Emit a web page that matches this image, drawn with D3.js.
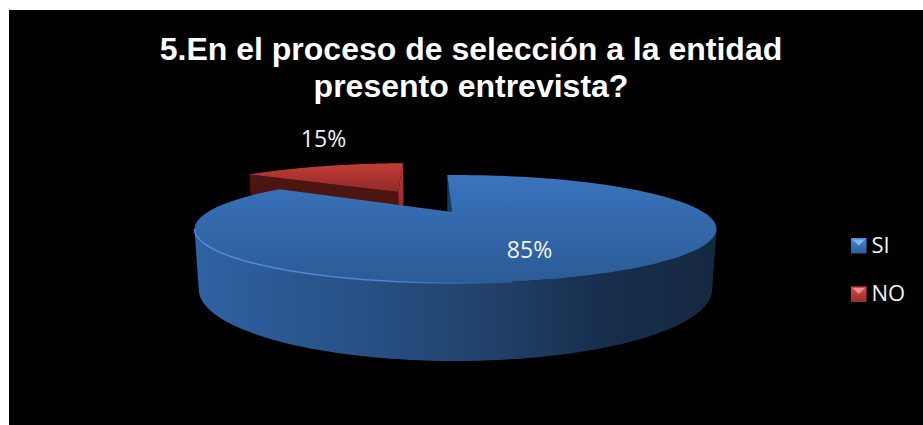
<!DOCTYPE html>
<html>
<head>
<meta charset="utf-8">
<script src="https://cdn.jsdelivr.net/npm/d3@7"></script>
<style>
html, body { margin: 0; padding: 0; background: #fff; }
svg { display: block; }
</style>
</head>
<body>
<svg id="chart" width="923" height="425"></svg>
<script>
const categories = ["SI", "NO"];
const shares = [85, 15];
const titleLines = ["5.En el proceso de selección a la entidad", "presento entrevista?"];

// Camera and solid settings for the tilted disc
const centre = { x: 455.5, y: 212 };
const radiusX = 247.7, radiusY = 48.6, depth = 55.7;
const foreshorten = 0.315, heightShrink = 0.015;
const explodeNo = 0.54;
const hubShift = -0.014;
const firstAngle = -2.5 * Math.PI / 180;

const svg = d3.select("#chart");
const defs = svg.append("defs");

function linear(id, x2, y2, stops) {
  const g = defs.append("linearGradient").attr("id", id)
    .attr("x1", 0).attr("y1", 0).attr("x2", x2).attr("y2", y2);
  stops.forEach(([o, c]) => g.append("stop").attr("offset", o).attr("stop-color", c));
}
linear("blueTop", 0, 1, [[0, "#3a74bd"], [1, "#2b5b96"]]);
linear("blueSide", 1, 0, [[0, "#2f62a3"], [0.5, "#234673"], [0.8, "#172d4b"], [1, "#142840"]]);
linear("blueRim", 1, 0, [[0, "#4f8edb"], [0.6, "#4a86d2"], [0.85, "#34669f"], [1, "#2b5b97"]]);
linear("redTop", 0, 1, [[0, "#c43c38"], [1, "#8f2a27"]]);
linear("redCut", 0, 1, [[0, "#bb3a36"], [0.7, "#8c2825"], [1, "#5a1a17"]]);
linear("swatchBlue", 0, 1, [[0, "#4a8ad6"], [1, "#2a5a98"]]);
linear("swatchRed", 0, 1, [[0, "#d84a46"], [1, "#9a2c2a"]]);

svg.append("rect").attr("x", 9).attr("y", 10).attr("width", 914).attr("height", 415).attr("fill", "#000");

const slices = d3.pie().sort(null).value(d => d)
  .startAngle(firstAngle).endAngle(firstAngle + 2 * Math.PI)(shares);

// Maps a disc point (u right, v back, z down) to the page
function project(u, v, z) {
  const w = 1 + foreshorten * v + heightShrink * z;
  return [centre.x + radiusX * u / w, centre.y + (depth * z - radiusY * v) / w];
}
function offsetFor(slice, amount) {
  const mid = (slice.startAngle + slice.endAngle) / 2;
  return [amount * Math.sin(mid), amount * Math.cos(mid)];
}
function rimPoint(angle, off, z) {
  return project(off[0] + Math.sin(angle), off[1] + Math.cos(angle), z);
}
function arcPoints(a0, a1, off, z) {
  return d3.range(0, 121).map(i => rimPoint(a0 + (a1 - a0) * i / 120, off, z));
}
const pathOf = d3.line();
const closed = pts => pathOf(pts) + "Z";

const yes = slices[0], no = slices[1];
const offYes = [0, 0], offNo = offsetFor(no, explodeNo);
const pie = svg.append("g");

// NO wedge: cut faces first, then its top
const noCentreTop = project(offNo[0], offNo[1], 0), noCentreLow = project(offNo[0], offNo[1], 1);
pie.append("path")
  .attr("d", closed([rimPoint(no.endAngle, offNo, 0), noCentreTop, noCentreLow, rimPoint(no.endAngle, offNo, 1)]))
  .attr("fill", "url(#redCut)");
pie.append("path")
  .attr("d", closed([rimPoint(no.startAngle, offNo, 0), noCentreTop, noCentreLow, rimPoint(no.startAngle, offNo, 1)]))
  .attr("fill", "#4c1512");
pie.append("path")
  .attr("d", closed([noCentreTop, ...arcPoints(no.startAngle, no.endAngle, offNo, 0)]))
  .attr("fill", "url(#redTop)");

// SI wedge: cut face, outer wall, top and lit rim
const hubTop = project(hubShift, 0, 0), hubLow = project(hubShift, 0, 1);
pie.append("path")
  .attr("d", closed([rimPoint(yes.startAngle, offYes, 0), hubTop, hubLow, rimPoint(yes.startAngle, offYes, 1)]))
  .attr("fill", "#1b3a60");
// The wall's outline turns back where the rim is tangent to the line of sight
const wallFrom = Math.acos(-foreshorten), wallTo = 2 * Math.PI - wallFrom;
pie.append("path")
  .attr("d", closed([...arcPoints(wallFrom, wallTo, offYes, 0), ...arcPoints(wallTo, wallFrom, offYes, 1)]))
  .attr("fill", "url(#blueSide)");
pie.append("path")
  .attr("d", closed([hubTop, ...arcPoints(yes.startAngle, yes.endAngle, offYes, 0)]))
  .attr("fill", "url(#blueTop)");
pie.append("path")
  .attr("d", pathOf(arcPoints(Math.PI * 0.95, wallTo, offYes, 0)))
  .attr("fill", "none").attr("stroke", "url(#blueRim)").attr("stroke-width", 1.5);

// Title
svg.append("g").selectAll("text").data(titleLines).join("text")
  .attr("x", 471).attr("y", (d, i) => 60 + i * 37)
  .attr("text-anchor", "middle")
  .attr("font-family", "'Liberation Sans', Arial, sans-serif")
  .attr("font-weight", 700).attr("font-size", 32)
  .attr("fill", "#fff").text(d => d);

// Value labels
const labelFont = "'Open Sans', Lato, sans-serif";
const labelSpots = [[529.5, 258], [323.5, 147]];
svg.append("g").selectAll("text").data(slices).join("text")
  .attr("x", (d, i) => labelSpots[i][0]).attr("y", (d, i) => labelSpots[i][1])
  .attr("text-anchor", "middle").attr("font-family", labelFont)
  .attr("font-size", 23).attr("fill", "#f2f2f2")
  .text(d => d.value + "%");

// Legend
const legendRow = d3.scalePoint().domain(categories).range([246, 294.5]);
const swatchFill = ["swatchBlue", "swatchRed"];
const swatchGlow = ["#7fb6f0", "#f08a86"];
const legend = svg.append("g").selectAll("g").data(categories).join("g")
  .attr("transform", d => `translate(851,${legendRow(d)})`);
legend.append("rect").attr("x", 0).attr("y", -8).attr("width", 15.5).attr("height", 15.5)
  .attr("fill", (d, i) => `url(#${swatchFill[i]})`);
legend.append("path").attr("d", "M1.5,-6.5H14L7.75,-0.5Z")
  .attr("fill", (d, i) => swatchGlow[i]);
legend.append("text").attr("x", 20.5).attr("y", 6.5)
  .attr("font-family", labelFont).attr("font-size", 22).attr("fill", "#f2f2f2")
  .text(d => d);
</script>
</body>
</html>
